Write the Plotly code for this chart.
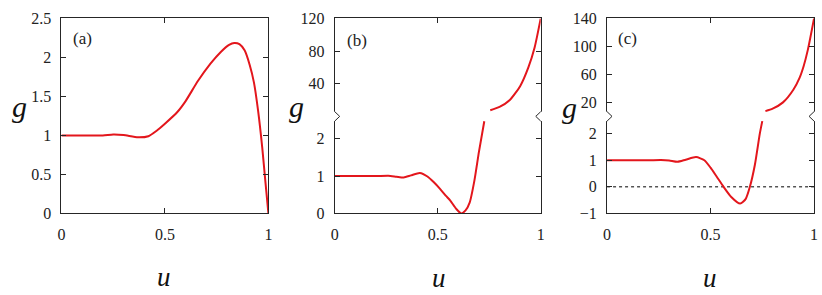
import plotly.graph_objects as go

W, H = 822, 295

# ---------------- data ----------------
# panel (a)
ua = [0, 0.1, 0.2, 0.25, 0.3, 0.37, 0.42, 0.46, 0.5, 0.56, 0.6, 0.66, 0.72, 0.77, 0.81, 0.835, 0.86, 0.885, 0.91, 0.93, 0.95, 0.97, 0.985, 1.0]
ga = [1, 1, 1.0, 1.012, 1.005, 0.975, 0.99, 1.06, 1.15, 1.30, 1.44, 1.70, 1.92, 2.07, 2.16, 2.185, 2.17, 2.09, 1.90, 1.68, 1.32, 0.85, 0.42, 0.0]

# panel (b) lower / upper segments
ub_lo = [0, 0.1, 0.2, 0.26, 0.3, 0.335, 0.37, 0.413, 0.45, 0.48, 0.51, 0.54, 0.56, 0.59, 0.614, 0.635, 0.655, 0.678, 0.70, 0.726]
gb_lo = [1, 1, 1, 1.01, 0.985, 0.965, 1.02, 1.085, 0.99, 0.84, 0.665, 0.47, 0.35, 0.12, 0.0, 0.08, 0.29, 0.88, 1.65, 2.47]
ub_hi = [0.755, 0.8, 0.85, 0.9, 0.94, 0.97, 1.0]
gb_hi = [7.5, 11.5, 20, 37, 60, 84, 120]

# panel (c) lower / upper segments
uc_lo = [0, 0.1, 0.2, 0.26, 0.3, 0.34, 0.38, 0.43, 0.47, 0.5, 0.53, 0.563, 0.6, 0.643, 0.67, 0.69, 0.714, 0.738, 0.75]
gc_lo = [1, 1, 1, 1.01, 0.99, 0.94, 1.02, 1.12, 1.0, 0.72, 0.38, 0.0, -0.38, -0.63, -0.45, 0.0, 0.82, 2.0, 2.47]
uc_hi = [0.765, 0.8, 0.85, 0.9, 0.93, 0.95, 0.97, 1.0]
gc_hi = [7.5, 11, 20, 38, 55, 72, 95, 140]

# ticks
x_ticks = [0, 0.5, 1]
x_labels = ["0", "0.5", "1"]
ya_ticks = [0, 0.5, 1, 1.5, 2, 2.5]
ya_labels = ["0", "0.5", "1", "1.5", "2", "2.5"]
yb_lo_ticks = [0, 1, 2]
yb_hi_ticks = [40, 80, 120]
yc_lo_ticks = [-1, 0, 1, 2]
yc_lo_labels = ["\u22121", "0", "1", "2"]
yc_hi_ticks = [20, 60, 100, 140]

panel_labels = ["(a)", "(b)", "(c)"]

# ---------------- layout helpers ----------------
RED = "#e3161c"
AX = "#262626"
FONT = "Liberation Serif"

def px(x):
    return x / W

def py(y):
    return 1 - y / H

top, bot, brk = 11, 218, 115
xa = (58, 267)
xb = (334, 542)
xc = (609, 818)

fig = go.Figure()
line = dict(color=RED, width=2, shape="spline", smoothing=0.6)

fig.add_trace(go.Scatter(x=ua, y=ga, mode="lines", line=line, xaxis="x", yaxis="y"))
fig.add_trace(go.Scatter(x=ub_lo, y=gb_lo, mode="lines", line=line, xaxis="x2", yaxis="y2"))
fig.add_trace(go.Scatter(x=ub_hi, y=gb_hi, mode="lines", line=line, xaxis="x3", yaxis="y3"))
fig.add_trace(go.Scatter(x=[0, 1], y=[0, 0], mode="lines", line=dict(color="#000", width=1, dash="dot"), xaxis="x4", yaxis="y4"))
fig.add_trace(go.Scatter(x=uc_lo, y=gc_lo, mode="lines", line=line, xaxis="x4", yaxis="y4"))
fig.add_trace(go.Scatter(x=uc_hi, y=gc_hi, mode="lines", line=line, xaxis="x5", yaxis="y5"))

tickfont = dict(family=FONT, size=16, color="#222")

def xax(dom, anchor, mirror, side="bottom", labels=True):
    return dict(domain=[px(dom[0]), px(dom[1])], anchor=anchor, range=[0, 1],
                tickvals=x_ticks, ticktext=x_labels, ticks="inside", ticklen=5,
                tickcolor=AX, showline=True, linecolor=AX, linewidth=1, mirror=mirror,
                showgrid=False, zeroline=False, side=side, showticklabels=labels,
                tickfont=tickfont, ticklabelstandoff=6, fixedrange=True)

def yax(anchor, ylo, yhi, rng, tv, tt):
    return dict(domain=[py(ylo), py(yhi)], anchor=anchor, range=rng,
                tickvals=tv, ticktext=tt, ticks="inside", ticklen=5,
                tickcolor=AX, showline=True, linecolor=AX, linewidth=1, mirror="ticks",
                showgrid=False, zeroline=False, tickfont=tickfont,
                ticklabelstandoff=6, fixedrange=True)

fig.update_layout(
    width=W, height=H, margin=dict(l=0, r=0, t=0, b=0),
    paper_bgcolor="white", plot_bgcolor="white", showlegend=False,
    xaxis=xax(xa, "y", "ticks"),
    yaxis=yax("x", bot, top, [0, 2.5], ya_ticks, ya_labels),
    xaxis2=xax(xb, "y2", False),
    yaxis2=yax("x2", bot, brk, [0, 2.6], yb_lo_ticks, [str(v) for v in yb_lo_ticks]),
    xaxis3=xax(xb, "y3", False, side="top", labels=False),
    yaxis3=yax("x3", brk, top, [0, 120], yb_hi_ticks, [str(v) for v in yb_hi_ticks]),
    xaxis4=xax(xc, "y4", False),
    yaxis4=yax("x4", bot, brk, [-1, 2.65], yc_lo_ticks, yc_lo_labels),
    xaxis5=xax(xc, "y5", False, side="top", labels=False),
    yaxis5=yax("x5", brk, top, [0, 140], yc_hi_ticks, [str(v) for v in yc_hi_ticks]),
)

# axis break marks
shapes = []
for (xl, xr) in (xb, xc):
    for x0, d in ((xl, 1), (xr, -1)):
        shapes.append(dict(type="rect", xref="paper", yref="paper",
                           x0=px(x0 - 2), x1=px(x0 + 2), y0=py(brk + 5), y1=py(brk - 5),
                           fillcolor="white", line=dict(width=0), layer="above"))
        path = "M {} {} L {} {} L {} {}".format(px(x0), py(brk - 5), px(x0 + 5 * d), py(brk), px(x0), py(brk + 5))
        shapes.append(dict(type="path", xref="paper", yref="paper", path=path,
                           line=dict(color=AX, width=1), layer="above"))
fig.update_layout(shapes=shapes)

# axis titles and panel labels
ann = []
for xc_, yc_ in ((162, 285), (439, 287), (713, 287)):
    ann.append(dict(text="<i>u</i>", x=px(xc_), y=py(yc_), xref="paper", yref="paper",
                    showarrow=False, xanchor="center", yanchor="middle", borderpad=0,
                    font=dict(family=FONT, size=27, color="#111")))
for xc_, yc_ in ((16, 104), (295, 105), (571, 106)):
    ann.append(dict(text="<i>g</i>", x=px(xc_), y=py(yc_), xref="paper", yref="paper",
                    showarrow=False, xanchor="center", yanchor="middle",
                    font=dict(family=FONT, size=30, color="#111")))
for lab, (xc_, yc_) in zip(panel_labels, ((79, 32), (356, 34), (630, 32))):
    ann.append(dict(text=lab, x=px(xc_), y=py(yc_), xref="paper", yref="paper",
                    showarrow=False, xanchor="center", yanchor="middle",
                    font=dict(family=FONT, size=17, color="#222")))
fig.update_layout(annotations=ann)

fig.write_html("out.html", post_script="document.body.style.margin='0px';",
               config={"displayModeBar": False})
